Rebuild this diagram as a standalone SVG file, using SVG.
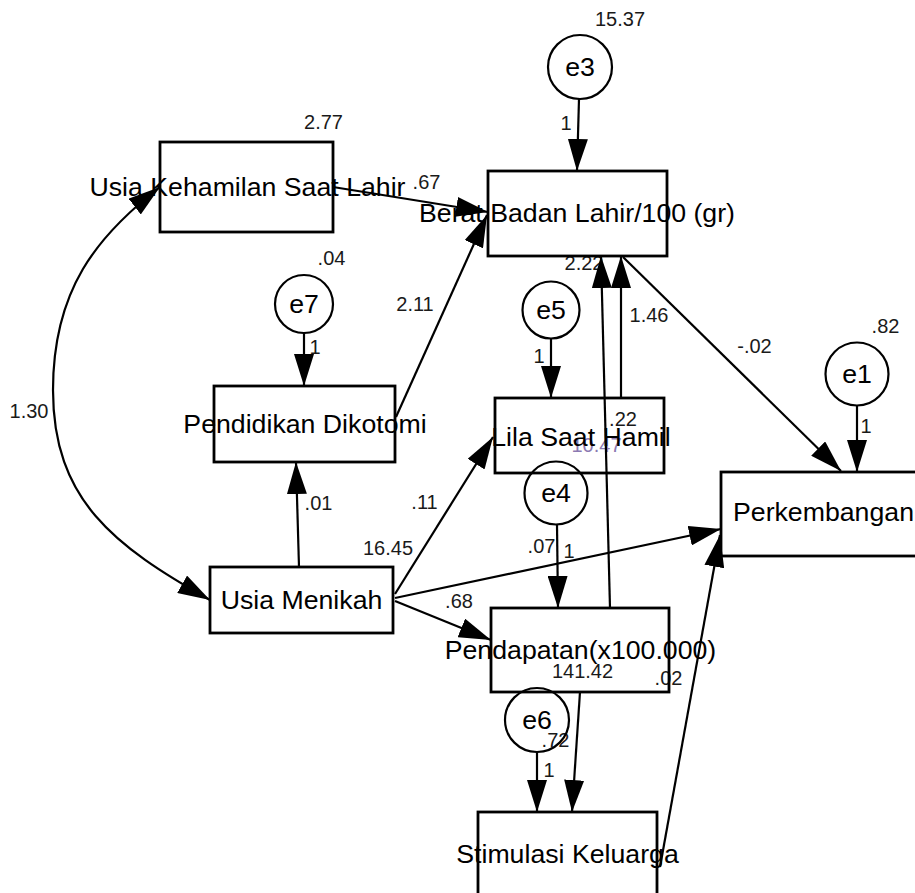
<svg xmlns="http://www.w3.org/2000/svg" width="915" height="893" viewBox="0 0 915 893">
<style>
  .box { fill: none; stroke: #000; stroke-width: 2.8; }
  .circ { fill: none; stroke: #000; stroke-width: 2.2; }
  .lbl { font-family: "Liberation Sans", Arial, sans-serif; font-size: 26.7px; fill: #000; text-anchor: middle; }
  .num { font-family: "Liberation Sans", Arial, sans-serif; font-size: 20px; fill: #1a1a1a; text-anchor: middle; }
  .purple { fill: #6f58a0; opacity: 0.8; }
  .edge { fill: none; stroke: #000; stroke-width: 2.2; marker-end: url(#arr); }
  .arc { fill: none; stroke: #000; stroke-width: 2.2; marker-end: url(#arr); marker-start: url(#arrs); }
</style>
<defs>
  <marker id="arr" markerUnits="userSpaceOnUse" viewBox="0 0 32 20" markerWidth="32" markerHeight="20" refX="32" refY="10" orient="auto">
    <path d="M0,0 L32,10 L0,20 z" fill="#000"/>
  </marker>
  <marker id="arrs" markerUnits="userSpaceOnUse" viewBox="0 0 32 20" markerWidth="32" markerHeight="20" refX="32" refY="10" orient="auto-start-reverse">
    <path d="M0,0 L32,10 L0,20 z" fill="#000"/>
  </marker>
</defs>
<rect x="0" y="0" width="915" height="893" fill="#fff"/>

<g id="labels">
  <text class="num" x="620" y="26">15.37</text>
  <text class="num" x="566" y="130">1</text>
  <text class="num" x="323.5" y="129">2.77</text>
  <text class="num" x="426.5" y="189">.67</text>
  <text class="num" x="331.5" y="265">.04</text>
  <text class="num" x="415" y="311">2.11</text>
  <text class="num" x="315" y="354">1</text>
  <text class="num" x="29" y="418">1.30</text>
  <text class="num" x="318.5" y="510">.01</text>
  <text class="num" x="424.5" y="509">.11</text>
  <text class="num" x="388" y="555">16.45</text>
  <text class="num" x="459" y="608">.68</text>
  <text class="num" x="649" y="322">1.46</text>
  <text class="num" x="584" y="270">2.22</text>
  <text class="num" x="539" y="363">1</text>
  <text class="num" x="754.5" y="353">-.02</text>
  <text class="num" x="885.5" y="333">.82</text>
  <text class="num" x="866" y="433">1</text>
  <text class="num" x="623" y="426">.22</text>
  <text class="num purple" x="596.5" y="452">10.47</text>
  <text class="num" x="541.5" y="553">.07</text>
  <text class="num" x="569" y="558">1</text>
  <text class="num" x="582.5" y="678">141.42</text>
  <text class="num" x="668.5" y="685">.02</text>
  <text class="num" x="555.5" y="747">.72</text>
  <text class="num" x="549" y="777">1</text>
</g>

<g id="node-usia-kehamilan">
  <text class="lbl" x="247.5" y="196">Usia Kehamilan Saat Lahir</text>
  <rect class="box" x="160" y="142" width="173" height="90"/>
</g>
<g id="node-berat-badan">
  <text class="lbl" x="577" y="222">Berat Badan Lahir/100 (gr)</text>
  <rect class="box" x="488" y="171" width="179" height="85"/>
</g>
<g id="node-pendidikan">
  <text class="lbl" x="305" y="433">Pendidikan Dikotomi</text>
  <rect class="box" x="214" y="386" width="181" height="76"/>
</g>
<g id="node-lila">
  <text class="lbl" x="581" y="446">Lila Saat Hamil</text>
  <rect class="box" x="495" y="398" width="169" height="75"/>
</g>
<g id="node-usia-menikah">
  <text class="lbl" x="301.5" y="609">Usia Menikah</text>
  <rect class="box" x="210" y="567" width="183" height="66"/>
</g>
<g id="node-perkembangan">
  <text class="lbl" x="823.5" y="521">Perkembangan</text>
  <rect class="box" x="721" y="472" width="205" height="84"/>
</g>
<g id="node-pendapatan">
  <text class="lbl" x="580.5" y="659">Pendapatan(x100.000)</text>
  <rect class="box" x="491" y="608" width="178" height="84"/>
</g>
<g id="node-stimulasi">
  <text class="lbl" x="567.5" y="863">Stimulasi Keluarga</text>
  <rect class="box" x="478" y="812" width="179" height="84"/>
</g>
<g id="node-e3">
  <circle class="circ" cx="580" cy="67" r="32"/>
  <text class="lbl" x="580" y="76">e3</text>
</g>
<g id="node-e7">
  <circle class="circ" cx="304" cy="304" r="29"/>
  <text class="lbl" x="304" y="313">e7</text>
</g>
<g id="node-e5">
  <circle class="circ" cx="551" cy="310" r="28.5"/>
  <text class="lbl" x="551" y="319">e5</text>
</g>
<g id="node-e1">
  <circle class="circ" cx="857" cy="374" r="31.5"/>
  <text class="lbl" x="857" y="383">e1</text>
</g>
<g id="node-e4">
  <circle class="circ" cx="556" cy="493" r="31.5"/>
  <text class="lbl" x="556" y="502">e4</text>
</g>
<g id="node-e6">
  <circle class="circ" cx="537" cy="720" r="32"/>
  <text class="lbl" x="537" y="729">e6</text>
</g>

<g id="connectors">
  <path class="arc" d="M160,187 C96.8,235.8 53,290 53,390 C53,500 114.3,546.1 210,600"/>
  <line class="edge" x1="579" y1="99" x2="577" y2="171"/>
  <line class="edge" x1="304" y1="333" x2="304" y2="386"/>
  <line class="edge" x1="551" y1="338.5" x2="551" y2="398"/>
  <line class="edge" x1="857" y1="405.5" x2="857" y2="472"/>
  <line class="edge" x1="557" y1="524.5" x2="558" y2="608"/>
  <line class="edge" x1="537" y1="752" x2="537" y2="812"/>
  <line class="edge" x1="333" y1="187" x2="488" y2="212"/>
  <line class="edge" x1="396" y1="417" x2="487" y2="215"/>
  <line class="edge" x1="299" y1="567" x2="296" y2="462"/>
  <line class="edge" x1="395" y1="594" x2="493" y2="437"/>
  <line class="edge" x1="395" y1="598" x2="721" y2="529"/>
  <line class="edge" x1="395" y1="601" x2="491" y2="640"/>
  <line class="edge" x1="610" y1="608" x2="601" y2="256"/>
  <line class="edge" x1="621" y1="398" x2="621" y2="256"/>
  <line class="edge" x1="623" y1="257" x2="841" y2="471"/>
  <line class="edge" x1="580" y1="692" x2="572" y2="812"/>
  <line class="edge" x1="660" y1="867" x2="720" y2="535"/>
</g>
</svg>
